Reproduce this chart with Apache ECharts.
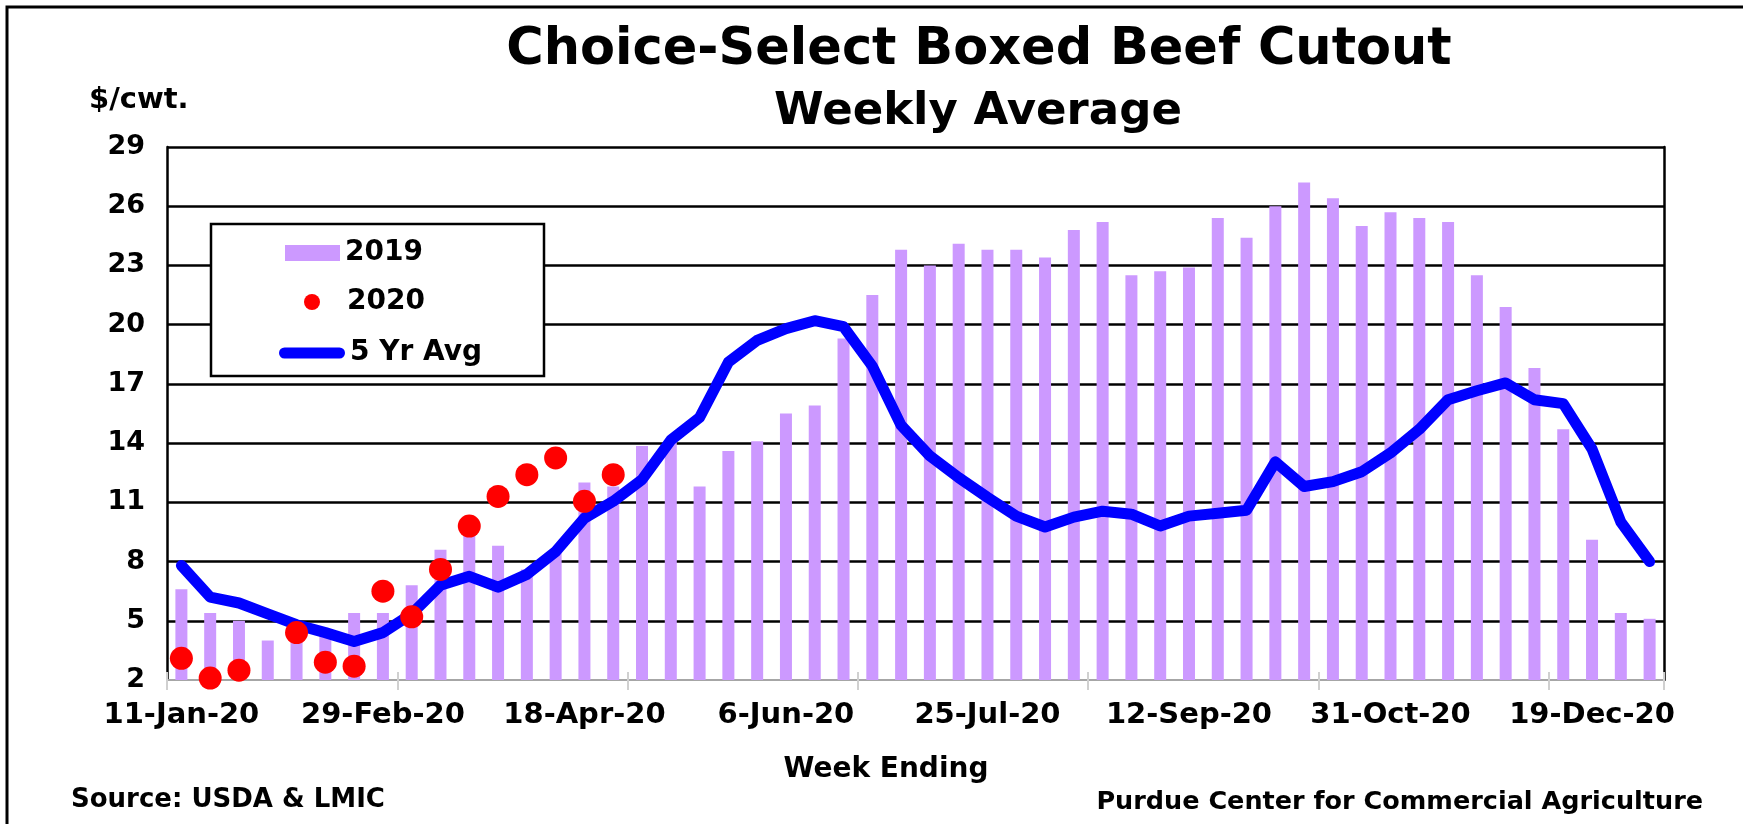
<!DOCTYPE html>
<html><head><meta charset="utf-8">
<script src="https://cdn.jsdelivr.net/npm/echarts@6/dist/echarts.min.js"></script>
<style>html,body{margin:0;padding:0;background:#fff}#c{width:1743px;height:824px}</style>
</head><body><div id="c"></div>
<script>
const weekEnding = ['11-Jan-20','18-Jan-20','25-Jan-20','1-Feb-20','8-Feb-20','15-Feb-20','22-Feb-20','29-Feb-20','7-Mar-20','14-Mar-20','21-Mar-20','28-Mar-20','4-Apr-20','11-Apr-20','18-Apr-20','25-Apr-20','2-May-20','9-May-20','16-May-20','23-May-20','30-May-20','6-Jun-20','13-Jun-20','20-Jun-20','27-Jun-20','4-Jul-20','11-Jul-20','18-Jul-20','25-Jul-20','1-Aug-20','8-Aug-20','15-Aug-20','22-Aug-20','29-Aug-20','5-Sep-20','12-Sep-20','19-Sep-20','26-Sep-20','3-Oct-20','10-Oct-20','17-Oct-20','24-Oct-20','31-Oct-20','7-Nov-20','14-Nov-20','21-Nov-20','28-Nov-20','5-Dec-20','12-Dec-20','19-Dec-20','26-Dec-20','2-Jan-21'];
const values2019 = [6.6,5.4,5.0,4.0,4.4,4.3,5.4,5.4,6.8,8.6,9.4,8.8,7.6,8.5,12.0,11.8,13.85,14.1,11.8,13.6,14.1,15.5,15.9,19.3,21.5,23.8,23.0,24.1,23.8,23.8,23.4,24.8,25.2,22.5,22.7,22.9,25.4,24.4,26.0,27.2,26.4,25.0,25.7,25.4,25.2,22.5,20.9,17.8,14.7,9.1,5.4,5.1];
const values2020 = [3.1,2.1,2.5,null,4.4,2.9,2.7,6.5,5.2,7.6,9.8,11.3,12.4,13.25,11.05,12.4];
const avg5yr = [7.8,6.2,5.9,5.35,4.8,4.4,3.95,4.4,5.35,6.8,7.25,6.7,7.35,8.5,10.2,11.05,12.15,14.15,15.3,18.1,19.2,19.8,20.2,19.9,17.9,14.9,13.35,12.25,11.25,10.3,9.75,10.25,10.55,10.4,9.8,10.3,10.45,10.6,13.05,11.8,12.05,12.55,13.5,14.7,16.2,16.65,17.05,16.2,16.0,13.7,10.0,8.0];
const yMin = 2, yMax = 29, yStep = 3;

const FF = '"DejaVu Sans", Verdana, sans-serif';
const chart = echarts.init(document.getElementById('c'), null, {renderer:'canvas'});
const legendText = {fontFamily:FF, fontWeight:'bold', fontSize:28, color:'#000'};
chart.setOption({
  animation:false,
  backgroundColor:'#fff',
  grid:{left:167, right:79, top:147, bottom:144, containLabel:false},
  xAxis:[{
    type:'category', data:weekEnding, boundaryGap:true,
    axisLine:{show:true, lineStyle:{color:'#A6A6A6', width:2}},
    axisTick:{show:true, interval:7, length:10, lineStyle:{color:'#D0D0D0', width:2}},
    axisLabel:{interval:6, fontFamily:FF, fontWeight:'bold', fontSize:29, color:'#000', margin:21},
    splitLine:{show:false}
  },{
    type:'category', data:weekEnding, boundaryGap:true, position:'top', offset:-533,
    axisLine:{show:false},
    axisTick:{show:true, inside:false, interval:7, length:8, lineStyle:{color:'#D0D0D0', width:2}},
    axisLabel:{show:false}, splitLine:{show:false}
  }],
  yAxis:[{
    type:'value', min:yMin, max:yMax, interval:yStep,
    axisLine:{show:true, lineStyle:{color:'#000', width:2.5}},
    axisTick:{show:false},
    axisLabel:{fontFamily:FF, fontWeight:'bold', fontSize:27, color:'#000', margin:22},
    splitLine:{show:true, showMinLine:false, lineStyle:{color:'#000', width:2.5}}
  },{
    type:'value', min:yMin, max:yMax, interval:yStep, position:'right',
    axisLine:{show:true, lineStyle:{color:'#000', width:2.5}},
    axisTick:{show:false}, axisLabel:{show:false}, splitLine:{show:false}
  }],
  legend:[
    {data:[{name:'2019', icon:'rect'}], left:285, top:239, itemWidth:55, itemHeight:16, padding:0, selectedMode:false, textStyle:legendText, z:6},
    {data:[{name:'2020', icon:'circle'}], left:304, top:288, itemWidth:16, itemHeight:16, padding:0, selectedMode:false, textStyle:Object.assign({padding:[0,0,0,22]}, legendText), z:6},
    {data:[{name:'5 Yr Avg', icon:'path://M5.5,0 L60.5,0 A5.5,5.5 0 0 1 60.5,11 L5.5,11 A5.5,5.5 0 0 1 5.5,0 Z', itemStyle:{color:'#0000FF'}}], left:279, top:339, itemWidth:66, itemHeight:11, padding:0, selectedMode:false, textStyle:legendText, z:6}
  ],
  graphic:[
    {type:'rect', shape:{x:7, y:7, width:1800, height:900}, style:{fill:null, stroke:'#000', lineWidth:3}, z:0, silent:true},
    {type:'rect', shape:{x:211, y:224, width:333, height:152}, style:{fill:'#fff', stroke:'#000', lineWidth:2.5}, z:5, silent:true},
    {type:'text', x:979, y:51, style:{text:'Choice-Select Boxed Beef Cutout', font:'bold 51px '+FF, fill:'#000', align:'center', verticalAlign:'middle'}, z:5},
    {type:'text', x:978, y:112, style:{text:'Weekly Average', font:'bold 45px '+FF, fill:'#000', align:'center', verticalAlign:'middle'}, z:5},
    {type:'text', x:89, y:100, style:{text:'$/cwt.', font:'bold 29px '+FF, fill:'#000', align:'left', verticalAlign:'middle'}, z:5},
    {type:'text', x:886, y:770, style:{text:'Week Ending', font:'bold 28px '+FF, fill:'#000', align:'center', verticalAlign:'middle'}, z:5},
    {type:'text', x:71, y:800, style:{text:'Source: USDA & LMIC', font:'bold 26px '+FF, fill:'#000', align:'left', verticalAlign:'middle'}, z:5},
    {type:'text', x:1703, y:802, style:{text:'Purdue Center for Commercial Agriculture', font:'bold 25.5px '+FF, fill:'#000', align:'right', verticalAlign:'middle'}, z:5}
  ],
  series:[
    {name:'2019', type:'bar', data:values2019, barWidth:12, itemStyle:{color:'#CC99FF'}, z:2},
    {name:'5 Yr Avg', type:'line', data:avg5yr, symbol:'none', showSymbol:false, color:'#0000FF',
     lineStyle:{width:11, color:'#0000FF', cap:'round', join:'round'}, itemStyle:{color:'#0000FF'}, z:3},
    {name:'2020', type:'scatter', data:values2020, symbolSize:23, itemStyle:{color:'#FF0000', opacity:1}, z:4}
  ]
});
</script></body></html>
